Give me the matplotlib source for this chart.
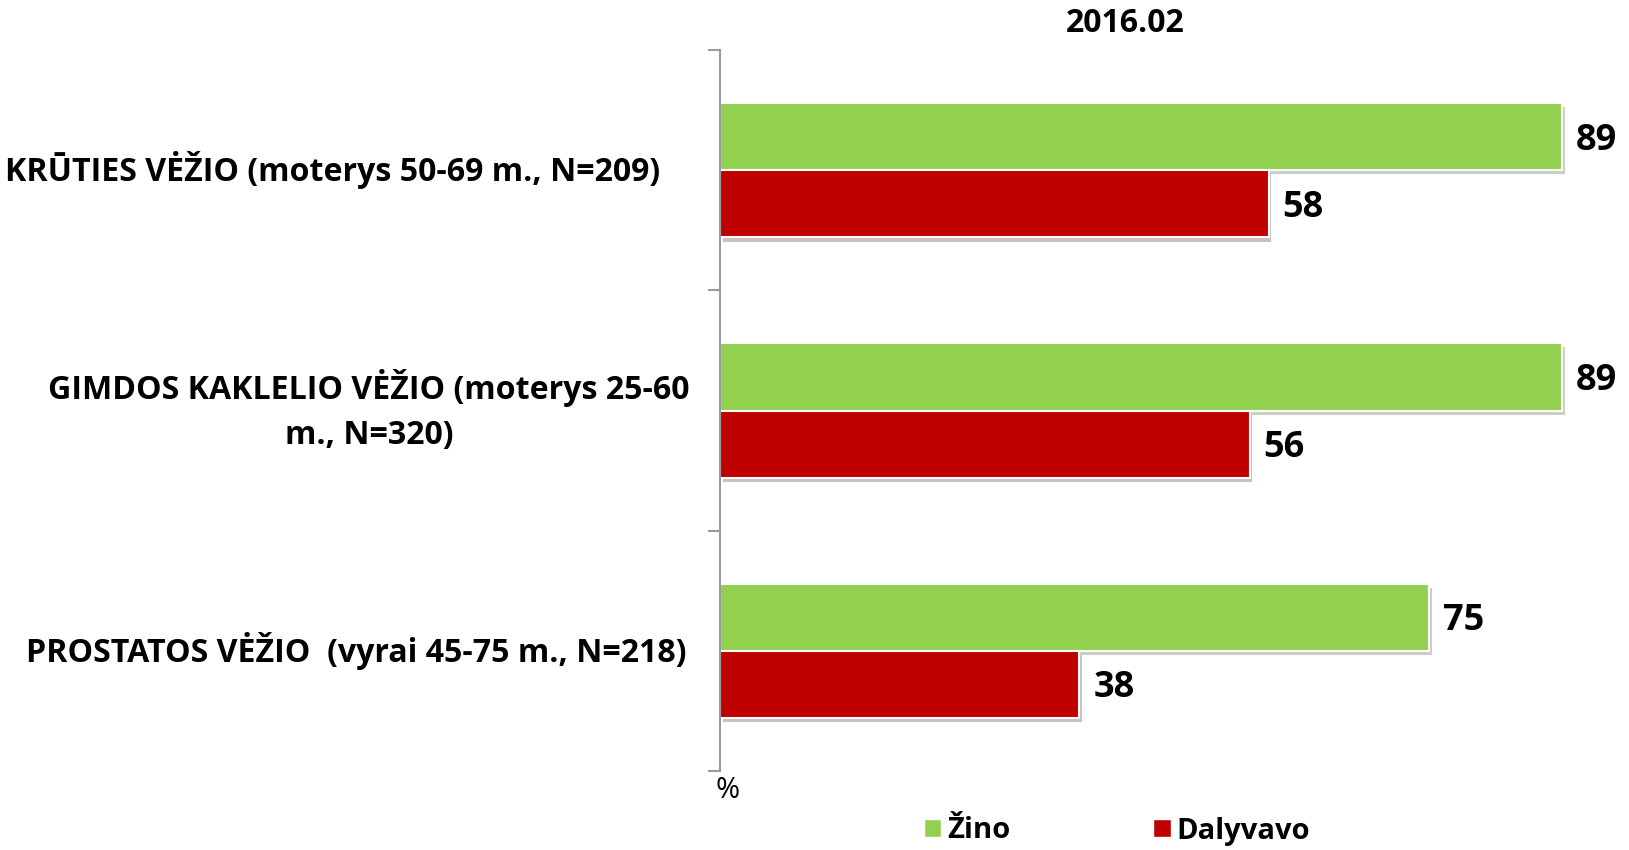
import numpy as np
import matplotlib
matplotlib.use("Agg")
import matplotlib.pyplot as plt
import matplotlib.patheffects as pe
from matplotlib.patches import Patch
from matplotlib.transforms import blended_transform_factory

# duomenys
categories = [
    "KRŪTIES VĖŽIO (moterys 50-69 m., N=209)",
    "GIMDOS KAKLELIO VĖŽIO (moterys 25-60\nm., N=320)",
    "PROSTATOS VĖŽIO  (vyrai 45-75 m., N=218)",
]
zino = [89, 89, 75]
dalyvavo = [58, 56, 38]
series_names = ["Žino", "Dalyvavo"]
title = "2016.02"

GREEN = "#92d050"
RED = "#c00000"
FONT = ["Open Sans", "DejaVu Sans"]

plt.rcParams["font.family"] = FONT

fig = plt.figure(figsize=(16.29, 8.5), dpi=100)
ax = fig.add_axes([720 / 1629, 1 - 771 / 850, 1 - 720 / 1629, (771 - 50) / 850])

y = np.arange(len(categories))
h = 0.28
shadow = [pe.SimplePatchShadow(offset=(2, -3), alpha=0.25), pe.Normal()]
b1 = ax.barh(y - h / 2, zino, height=h, color=GREEN, edgecolor="white", linewidth=1.5)
b2 = ax.barh(y + h / 2, dalyvavo, height=h, color=RED, edgecolor="white", linewidth=1.5)
for b in list(b1) + list(b2):
    b.set_path_effects(shadow)

# reiksmes prie stulpeliu
for bars, vals in ((b1, zino), (b2, dalyvavo)):
    for b, v in zip(bars, vals):
        ax.annotate(str(v), (b.get_width(), b.get_y() + b.get_height() / 2),
                    xytext=(14, -4), textcoords="offset pixels",
                    ha="left", va="center", fontsize=26, fontweight="bold")

ax.set_xlim(0, 96.1)
ax.set_ylim(len(categories) - 0.5, -0.5)

for s in ("top", "right", "bottom"):
    ax.spines[s].set_visible(False)
ax.spines["left"].set_color("#9a9a9a")
ax.spines["left"].set_linewidth(1.5)
ax.set_xticks([])
ax.set_yticks(np.arange(len(categories) + 1) - 0.5)
ax.set_yticklabels([])
ax.tick_params(axis="y", length=9, width=1.5, color="#9a9a9a", direction="out")

# kategoriju pavadinimai
trans = blended_transform_factory(fig.transFigure, ax.transData)
label_x = [660 / 1629, 369 / 1629, 686 / 1629]
label_ha = ["right", "center", "right"]
for i, (txt, lx, ha) in enumerate(zip(categories, label_x, label_ha)):
    ax.text(lx, i, txt, transform=trans, ha=ha, va="center", multialignment="center",
            fontsize=23.1, fontweight="bold", linespacing=1.45, clip_on=False)

fig.text(1125 / 1629, 1 - 23 / 850, title, ha="center", va="center",
         fontsize=23, fontweight="bold")
fig.text(728 / 1629, 1 - 790 / 850, "%", ha="center", va="center", fontsize=21)

handles = [Patch(facecolor=GREEN, edgecolor="white"), Patch(facecolor=RED, edgecolor="white")]
leg = fig.legend(handles, series_names, loc="center", bbox_to_anchor=(1117 / 1629, 1 - 831 / 850),
                 ncol=2, frameon=False, handlelength=0.6, handleheight=0.6,
                 handletextpad=0.2, columnspacing=4.9,
                 prop={"family": FONT, "size": 21, "weight": "bold"})

fig.savefig("out.png", dpi=100)
